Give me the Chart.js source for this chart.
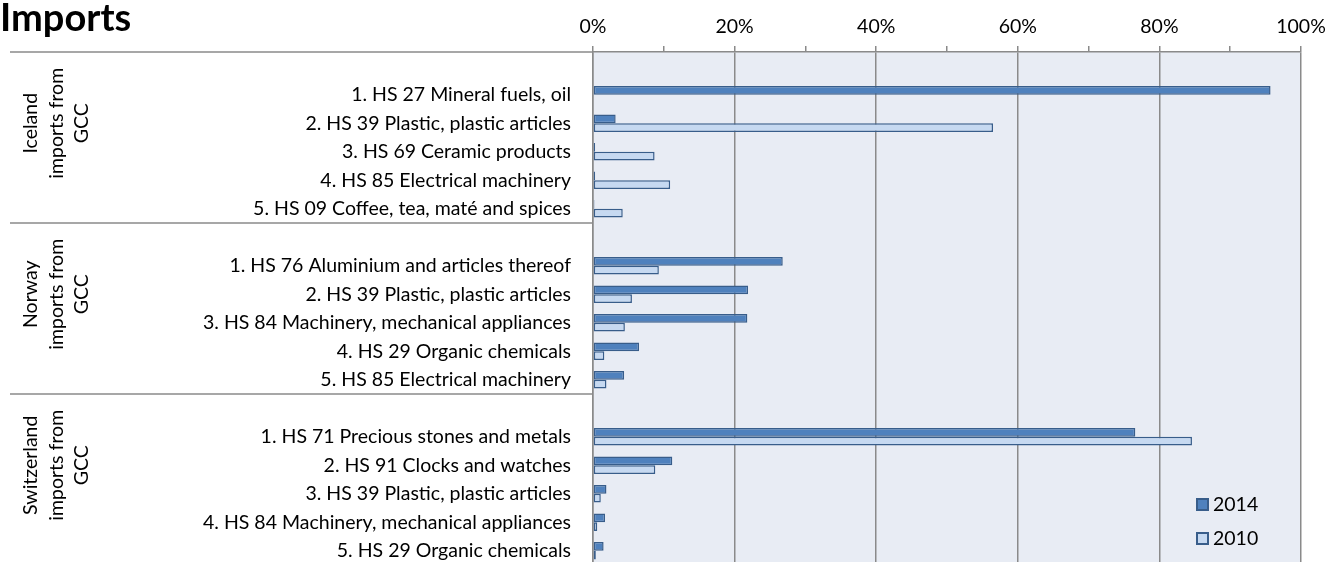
<!DOCTYPE html>
<html>
<head>
<meta charset="utf-8">
<script src="https://cdn.jsdelivr.net/npm/chart.js@4.4.0/dist/chart.umd.min.js"></script>
<style>
html, body { margin: 0; padding: 0; background: #fff; overflow: hidden; }
#wrap { width: 1329px; height: 562px; overflow: hidden; }
</style>
</head>
<body>
<div id="wrap"><canvas id="chart" width="1329" height="566"></canvas></div>
<script>
// 차트 데이터
const chartTitle = 'Imports';
const seriesNames = ['2014', '2010'];

// 그룹 라벨 (세로 회전 텍스트, 줄 단위)
const groupNames = [
    ['Iceland', 'imports from', 'GCC'],
    ['Norway', 'imports from', 'GCC'],
    ['Switzerland', 'imports from', 'GCC']
];

// 카테고리 ('' = 그룹 사이 빈 칸)
const itemLabels = [
    '',
    '1. HS 27 Mineral fuels, oil',
    '2. HS 39 Plastic, plastic articles',
    '3. HS 69 Ceramic products',
    '4. HS 85 Electrical machinery',
    '5. HS 09 Coffee, tea, maté and spices',
    '',
    '1. HS 76 Aluminium and articles thereof',
    '2. HS 39 Plastic, plastic articles',
    '3. HS 84 Machinery, mechanical appliances',
    '4. HS 29 Organic chemicals',
    '5. HS 85 Electrical machinery',
    '',
    '1. HS 71 Precious stones and metals',
    '2. HS 91 Clocks and watches',
    '3. HS 39 Plastic, plastic articles',
    '4. HS 84 Machinery, mechanical appliances',
    '5. HS 29 Organic chemicals'
];

// 값 (%)
const values2014 = [null, 95.7, 3.2, 0.3, 0.3, 0.2, null, 26.8, 21.9, 21.8, 6.5, 4.4, null, 76.6, 11.2, 1.9, 1.7, 1.5];
const values2010 = [null, null, 56.5, 8.7, 10.9, 4.2, null, 9.3, 5.5, 4.5, 1.6, 1.9, null, 84.6, 8.8, 1.1, 0.6, 0.4];

// x축 눈금
const xMin = 0;
const xMax = 100;
const xStep = 10;
const xLabelStep = 20;

const FONT = 'Lato';
const FONT_SIZE = 19.5;
const GRID = '#8a8a8a';

// 배경, 그룹 라벨, 범례 그리기
const sidePlugin = {
    id: 'side',
    beforeDraw(chart) {
        const { ctx, chartArea: a } = chart;
        ctx.save();
        ctx.fillStyle = '#e8ecf4';
        ctx.fillRect(a.left, a.top, a.right - a.left, a.bottom - a.top);
        ctx.restore();
    },
    afterDraw(chart) {
        const { ctx, chartArea: a, scales: { y } } = chart;
        ctx.save();

        // 제목
        ctx.fillStyle = '#000';
        ctx.font = `bold 38px ${FONT}`;
        ctx.textAlign = 'left';
        ctx.textBaseline = 'alphabetic';
        ctx.fillText(chartTitle, 0, 31);

        // 그룹 구분선 + 그룹 라벨
        const slot = y.getPixelForValue(1) - y.getPixelForValue(0);
        const starts = itemLabels.map((l, i) => l === '' ? i : -1).filter(i => i >= 0);
        ctx.strokeStyle = GRID;
        ctx.lineWidth = 1.5;
        starts.forEach((s, g) => {
            const end = g + 1 < starts.length ? starts[g + 1] : itemLabels.length;
            const yTop = y.getPixelForValue(s) - slot / 2;
            ctx.beginPath();
            ctx.moveTo(10, yTop);
            ctx.lineTo(a.left, yTop);
            ctx.stroke();

            const cy = (y.getPixelForValue(s) + y.getPixelForValue(end - 1)) / 2 - slot / 2;
            ctx.save();
            ctx.translate(0, cy);
            ctx.rotate(-Math.PI / 2);
            ctx.fillStyle = '#000';
            ctx.font = `${FONT_SIZE}px ${FONT}`;
            ctx.textAlign = 'center';
            ctx.textBaseline = 'alphabetic';
            (groupNames[g] || []).forEach((t, i) => ctx.fillText(t, 0, 37 + i * 25.5));
            ctx.restore();
        });

        // 범례
        chart.data.datasets.forEach((ds, i) => {
            const lx = a.right - 105;
            const ly = a.bottom - 61 + i * 34;
            ctx.fillStyle = ds.backgroundColor;
            ctx.fillRect(lx, ly - 6, 13, 13);
            ctx.strokeStyle = ds.borderColor;
            ctx.lineWidth = 2;
            ctx.strokeRect(lx + 1, ly - 5, 11, 11);
            ctx.fillStyle = '#000';
            ctx.font = `${FONT_SIZE}px ${FONT}`;
            ctx.textAlign = 'left';
            ctx.textBaseline = 'middle';
            ctx.fillText(ds.label, lx + 17, ly + 1);
        });

        ctx.restore();
    }
};

function createChart() {
    const ctx = document.getElementById('chart').getContext('2d');
    new Chart(ctx, {
        type: 'bar',
        data: {
            labels: itemLabels,
            datasets: [{
                label: seriesNames[0],
                data: values2014,
                backgroundColor: '#4f81bd',
                borderColor: '#385d8a',
                borderWidth: 1.5,
                borderSkipped: false,
                barPercentage: 1,
                categoryPercentage: 0.62
            }, {
                label: seriesNames[1],
                data: values2010,
                backgroundColor: '#c6d9f1',
                borderColor: '#385d8a',
                borderWidth: 1.5,
                borderSkipped: false,
                barPercentage: 1,
                categoryPercentage: 0.62
            }]
        },
        options: {
            indexAxis: 'y',
            responsive: false,
            animation: false,
            layout: { padding: { left: 0, right: 28, top: 0, bottom: 1 } },
            plugins: {
                legend: { display: false },
                tooltip: { enabled: false },
                title: { display: false }
            },
            scales: {
                x: {
                    position: 'top',
                    min: xMin,
                    max: xMax,
                    afterFit(scale) {
                        scale.height = 52;
                        scale.paddingLeft = 0;
                        scale.paddingRight = 0;
                    },
                    ticks: {
                        stepSize: xStep,
                        padding: 8,
                        color: '#000',
                        font: { family: FONT, size: FONT_SIZE },
                        maxRotation: 0,
                        autoSkip: false,
                        callback: v => v % xLabelStep === 0 ? v + '%' : ''
                    },
                    grid: {
                        color: c => (c.tick && c.tick.value % xLabelStep !== 0) ? 'transparent' : GRID,
                        tickColor: GRID,
                        lineWidth: 1.5,
                        tickLength: 6
                    },
                    border: { display: true, color: GRID, width: 1.5 }
                },
                y: {
                    afterFit(scale) {
                        scale.width = 593;
                        scale.paddingTop = 0;
                        scale.paddingBottom = 0;
                    },
                    ticks: {
                        padding: 22,
                        color: '#000',
                        autoSkip: false,
                        font: { family: FONT, size: FONT_SIZE }
                    },
                    grid: { display: false, drawTicks: false },
                    border: { display: true, color: GRID, width: 1.5 }
                }
            }
        },
        plugins: [sidePlugin]
    });
}

document.fonts.load(`${FONT_SIZE}px ${FONT}`).then(createChart, createChart);
</script>
</body>
</html>
